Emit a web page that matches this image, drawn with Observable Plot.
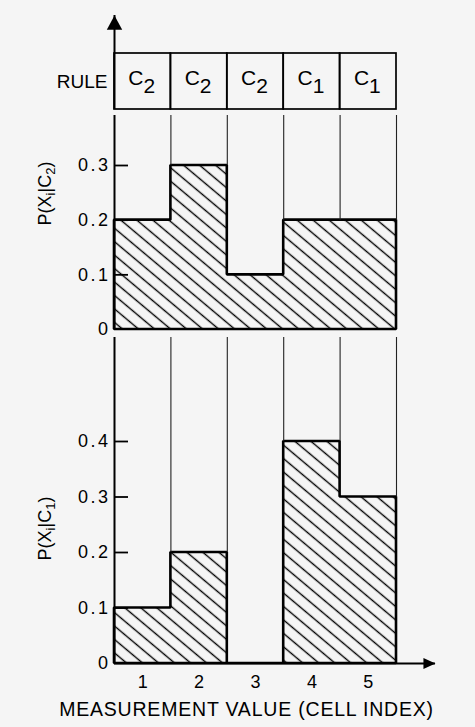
<!DOCTYPE html>
<html><head><meta charset="utf-8">
<script src="https://cdn.jsdelivr.net/npm/d3@7"></script>
<script src="https://cdn.jsdelivr.net/npm/@observablehq/plot@0.6"></script>
<style>
html,body{margin:0;padding:0;background:#f5f5f5;}
#chart{position:relative;width:475px;height:727px;overflow:hidden;}
#chart svg{position:absolute;left:0;}
</style></head><body><div id="chart"></div>
<script>
// ---- data ----
const cells = [1, 2, 3, 4, 5];
const rules = ["C_2", "C_2", "C_2", "C_1", "C_1"];
const pC2 = [0.2, 0.3, 0.1, 0.2, 0.2];
const pC1 = [0.1, 0.2, 0.0, 0.4, 0.3];
const ticksTop = [0, 0.1, 0.2, 0.3];
const ticksBottom = [0, 0.1, 0.2, 0.3, 0.4];
const cellLabels = ["1", "2", "3", "4", "5"];
const ruleLabel = "RULE";
const yLabelTop = "P(X_i|C_2)";
const yLabelBottom = "P(X_i|C_1)";
const xLabel = "MEASUREMENT VALUE (CELL INDEX)";

// ---- helpers ----
const FONT = "Liberation Sans, Arial, sans-serif";
const X0 = 114, X1 = 396;
const xDomain = [0.5, 5.5];
const xScale = {type: "linear", domain: xDomain, range: [X0, X1], axis: null};
const baseStyle = {background: "none", fontFamily: FONT, color: "black", overflow: "visible"};
const fmt = d => String(+d.toFixed(1));
const tickLen = 14 * (xDomain[1] - xDomain[0]) / (X1 - X0); // 14px inward tick, in x units

const arrowUp = {draw(ctx, size) { const s = Math.sqrt(size); ctx.moveTo(0, 0); ctx.lineTo(-0.7 * s, 1.3 * s); ctx.lineTo(0.7 * s, 1.3 * s); ctx.closePath(); }};
const arrowRight = {draw(ctx, size) { const s = Math.sqrt(size); ctx.moveTo(0, 0); ctx.lineTo(-1.1 * s, -0.5 * s); ctx.lineTo(-1.1 * s, 0.5 * s); ctx.closePath(); }};

function stepData(vals) {
  const pts = vals.map((v, i) => ({x: cells[i] - 0.5, y: v}));
  pts.push({x: cells[cells.length - 1] + 0.5, y: vals[vals.length - 1]});
  return pts;
}
function dividers(vals) {
  return cells.map((c, i) => ({x: c + 0.5, y: Math.max(vals[i], i + 1 < vals.length ? vals[i + 1] : 0)}));
}
function addHatch(svg, id) {
  const w = 10.3;
  const p = d3.select(svg).insert("defs", ":first-child").append("pattern")
    .attr("id", id).attr("patternUnits", "userSpaceOnUse")
    .attr("width", w).attr("height", w).attr("patternTransform", "rotate(-50)");
  p.append("line").attr("x1", w / 2).attr("x2", w / 2).attr("y1", -1).attr("y2", w + 1)
    .attr("stroke", "black").attr("stroke-width", 1.4);
}
function subscripts(svg, subSize, subDy) {
  d3.select(svg).selectAll("text").each(function () {
    const t = this.textContent;
    if (!t.includes("_")) return;
    const el = d3.select(this); el.text(null);
    const parts = t.split(/(_.)/).filter(Boolean);
    let shifted = false;
    for (const p of parts) {
      if (p[0] === "_") { el.append("tspan").attr("dy", subDy).attr("font-size", subSize).text(p[1]); shifted = true; }
      else { const ts = el.append("tspan").text(p); if (shifted) { ts.attr("dy", -subDy); shifted = false; } }
    }
  });
}
function spacing(svg, strings, px) {
  const set = new Set(strings);
  d3.select(svg).selectAll("text").filter(function () { return set.has(this.textContent); }).attr("letter-spacing", px);
}
function place(svg, top) { svg.style.top = top + "px"; document.getElementById("chart").appendChild(svg); }

// ---- rule row ----
const ruleRow = cells.map((c, i) => ({x: c, rule: rules[i]}));
const svgA = Plot.plot({
  width: 475, height: 112,
  marginTop: 15, marginBottom: 3, marginLeft: X0, marginRight: 40,
  x: xScale,
  y: {domain: [0, 1], range: [109, 53], axis: null},
  style: baseStyle,
  marks: [
    Plot.ruleX([0.5], {x: d => d, strokeWidth: 2}),
    Plot.dot([0.5], {x: d => d, frameAnchor: "top", symbol: arrowUp, r: 6.2, fill: "black"}),
    Plot.rect(ruleRow, {x1: d => d.x - 0.5, x2: d => d.x + 0.5, y1: 0, y2: 1, fill: "none", stroke: "black", strokeWidth: 1.7}),
    Plot.text(ruleRow, {x: "x", y: 0.5, text: "rule", fontSize: 21, dy: -3, dx: -1}),
    Plot.text([ruleLabel], {x: 0.5, y: 0.5, text: d => d, textAnchor: "end", dx: -7, fontSize: 19})
  ]
});
subscripts(svgA, 21, 8);
place(svgA, 0);

// ---- panel builder ----
function panel({vals, ticks, top, height, baseline, yMax, yMaxPx, marginTop, marginBottom, label, labelDy, bottom, hatchId}) {
  const yTop = yMax * (baseline - marginTop) / (baseline - yMaxPx); // domain value at the frame's top edge
  const marks = [
    Plot.areaY(stepData(vals), {x: "x", y1: 0, y2: "y", curve: "step-after", fill: `url(#${hatchId})`, stroke: "black", strokeWidth: 2.6, strokeLinejoin: "miter"}),
    Plot.ruleX(dividers(vals), {x: "x", y1: "y", y2: yTop, stroke: "#222", strokeWidth: 1.1}),
    Plot.ruleX([0.5], {x: d => d, strokeWidth: 2}),
    Plot.ruleY(ticks.filter(t => t > 0), {y: d => d, x1: xDomain[0], x2: xDomain[0] + tickLen, stroke: "black", strokeWidth: 1.8}),
    Plot.axisY(ticks, {anchor: "left", tickSize: 0, tickPadding: 4, tickFormat: fmt, fontSize: 18, label: null}),
    Plot.text([label], {frameAnchor: "left", textAnchor: "middle", lineAnchor: "middle", text: d => d, rotate: -90, dx: -69, dy: labelDy, fontSize: 18})
  ];
  if (bottom) {
    marks.push(
      Plot.ruleY([0], {y: d => d, strokeWidth: 2}),
      Plot.dot([0], {y: d => d, frameAnchor: "right", symbol: arrowRight, r: 6.2, fill: "black"}),
      Plot.text(cells, {x: d => d, frameAnchor: "bottom", lineAnchor: "middle", text: (d, i) => cellLabels[i], dy: 19, fontSize: 18}),
      Plot.text([xLabel], {frameAnchor: "bottom", textAnchor: "middle", lineAnchor: "middle", text: d => d, dy: 46, dx: -28.5, fontSize: 19.5})
    );
  }
  const svg = Plot.plot({
    width: 475, height,
    marginTop, marginBottom, marginLeft: X0, marginRight: 40,
    x: xScale,
    y: {domain: [0, yMax], range: [baseline, yMaxPx], axis: null},
    style: baseStyle,
    marks
  });
  addHatch(svg, hatchId);
  spacing(svg, ticks.map(fmt), 2.5);
  spacing(svg, [xLabel], 0.8);
  subscripts(svg, 13, 4);
  place(svg, top);
  return svg;
}

panel({vals: pC2, ticks: ticksTop, top: 112, height: 223, baseline: 217, yMax: 0.3, yMaxPx: 53,
  marginTop: 3, marginBottom: 6, label: yLabelTop, labelDy: -29, bottom: false, hatchId: "hatchTop"});
panel({vals: pC1, ticks: ticksBottom, top: 335, height: 392, baseline: 328, yMax: 0.4, yMaxPx: 106,
  marginTop: 2, marginBottom: 64, label: yLabelBottom, labelDy: 28, bottom: true, hatchId: "hatchBottom"});
</script></body></html>
